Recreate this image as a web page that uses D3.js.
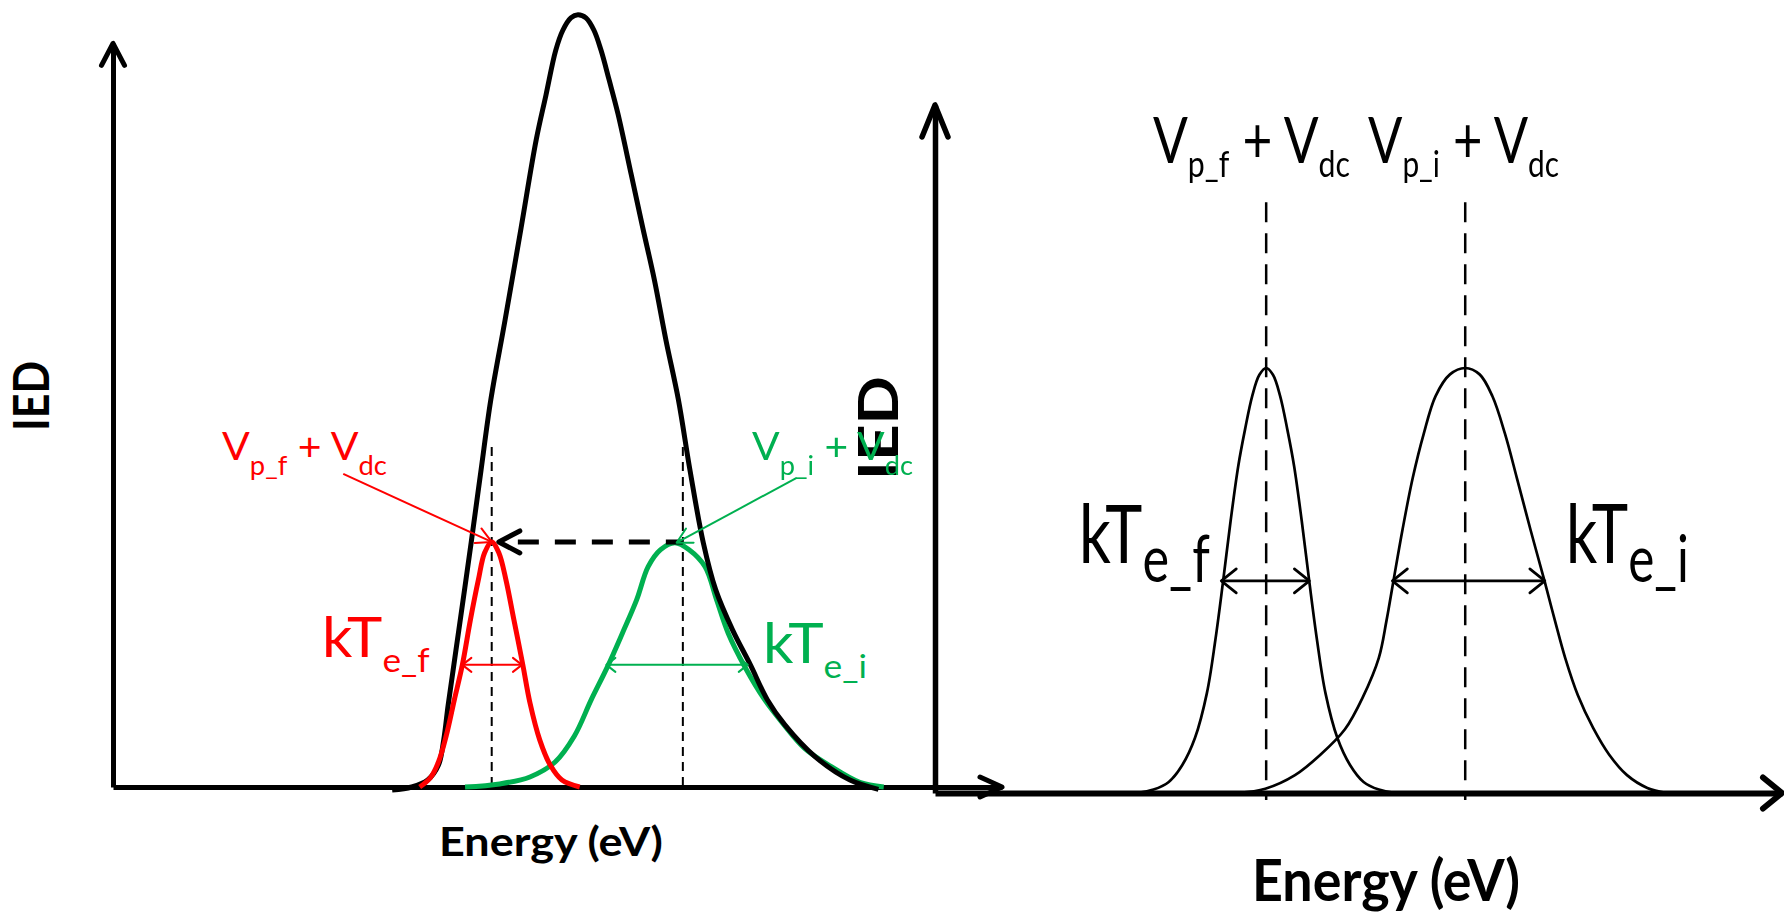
<!DOCTYPE html>
<html>
<head>
<meta charset="utf-8">
<script src="https://cdn.jsdelivr.net/npm/d3@7/dist/d3.min.js"></script>
<style>
  html, body { margin: 0; padding: 0; background: #ffffff; }
  svg { display: block; }
  text { white-space: pre; }
</style>
</head>
<body>
<svg id="chart" width="1784" height="913"></svg>
<script>
// ---------- Left panel: measured IED (envelope) and its two component peaks ----------
const envelopeEnergy = [31.4, 33.6, 35.4, 36.6, 37.2, 37.7, 38.9, 40.3, 41.4, 42.5, 44.1, 45.9, 47.6, 48.7, 49.8, 50.6, 51.5, 52.3, 53.2, 54.1, 54.9, 55.8, 56.8, 58.3, 59.6, 60.9, 62.2, 63.6, 64.9, 66.4, 67.8, 69.7, 71.7, 73.6, 75.6, 79.0, 82.9, 86.1];
const envelopeIED    = [-0.4, 0, 0.9, 2.8, 6.1, 10.6, 20.3, 31.7, 41.0, 50.1, 60.4, 72.3, 83.7, 89.5, 95.3, 97.9, 99.5, 99.9, 99.5, 97.9, 95.3, 91.5, 87.1, 79.2, 72.3, 65.6, 57.8, 50.1, 41.0, 31.6, 25.5, 20.3, 15.8, 11.3, 8.0, 3.9, 0.9, -0.3];

const finalEnergyL = [34.5, 35.7, 36.6, 37.5, 38.4, 39.3, 40.2, 41.1, 41.8, 42.6, 43.4, 44.2, 45.1, 46.1, 46.9, 48.0, 49.2, 50.5, 52.5];
const finalIEDL    = [0, 1.2, 3.2, 6.7, 11.3, 15.8, 21.6, 26.8, 30.3, 31.7, 30.3, 26.8, 21.6, 15.8, 10.9, 6.1, 2.8, 0.9, 0];

const initialEnergyL = [39.6, 43.5, 46.9, 49.7, 51.9, 53.8, 55.6, 57.3, 58.9, 60.2, 61.6, 63.2, 64.8, 66.6, 67.9, 69.2, 71.1, 73.3, 75.3, 77.8, 80.7, 84.0, 86.7];
const initialIEDL    = [0, 0.4, 1.3, 3.2, 6.6, 11.3, 15.5, 19.9, 24.2, 28.5, 30.7, 31.6, 30.7, 28.5, 24.2, 19.9, 15.5, 11.3, 8.3, 5.0, 2.7, 0.6, 0];

const markerEnergyL = [42.6, 64.1];          // V_p_f + V_dc , V_p_i + V_dc
const markerTopL = 44;
const widthBarsL = [[39.3, 46.0], [55.5, 71.4]];   // kT_e_f , kT_e_i
const widthBarLevelL = 15.8;
const shiftArrowL = [64.1, 43.4];            // energy shift from initial to final peak
const shiftLevelL = 31.7;
const pointerTailsL = [[25.9, 40.5], [76.9, 40.0]];
const pointerTipsL = [[42.6, 31.7], [63.4, 31.6]];
const axisTopL = 96.2;

// ---------- Right panel: the two ideal peaks ----------
const finalEnergyR = [23.9, 25.8, 27.6, 29.2, 30.7, 32.1, 33.1, 34.0, 34.9, 35.8, 36.6, 37.45, 38.3, 39.1, 39.9, 40.75, 41.6, 42.4, 43.3, 44.2, 45.1, 46.1, 47.5, 49.0, 50.6, 52.4, 54.3];
const finalIEDR    = [0, 0.8, 2.6, 6.6, 13, 23.5, 36, 49.6, 64, 76.9, 85.5, 93.4, 98.4, 100, 98.4, 93.4, 85.5, 76.9, 64, 49.6, 36, 23.5, 13, 6.6, 2.6, 0.8, 0];

const initialEnergyR = [35.8, 39.0, 42.5, 45.5, 48.4, 50.5, 52.4, 53.3, 54.1, 55.2, 56.4, 57.7, 59.1, 60.8, 62.6, 64.3, 65.8, 67.3, 68.7, 70.3, 72.0, 73.2, 74.4, 75.9, 77.7, 79.6, 81.7, 84.1, 86.4];
const initialIEDR    = [0, 1, 4.2, 9, 15, 22.5, 31.8, 40.5, 49.6, 62, 74.1, 84.5, 93.4, 98.5, 100, 98.5, 93.4, 84.5, 74.1, 62, 49.6, 40.5, 31.8, 23, 15.3, 9, 4.2, 1.2, 0];

const markerEnergyR = [39.1, 62.6];
const markerTopR = 139;
const widthBarsR = [[33.8, 44.2], [54.0, 72.0]];
const widthBarLevelR = 49.9;
const axisTopR = 161.9;

// ---------- Styles ----------
const RED = "#ff0000", GREEN = "#00b050", BLACK = "#000000";
const FONT = "Lato, 'Open Sans', sans-serif";

const svg = d3.select("#chart");
const defs = svg.append("defs");
defs.append("filter").attr("id", "soft")
  .append("feGaussianBlur").attr("stdDeviation", 0.6);

// Scales
const xL = d3.scaleLinear().domain([0, 100]).range([113, 1002]);
const yL = d3.scaleLinear().domain([0, 100]).range([787, 14]);
const xR = d3.scaleLinear().domain([0, 100]).range([935, 1782]);
const yR = d3.scaleLinear().domain([0, 100]).range([793, 368]);

const zip = (a, b) => a.map((v, i) => [v, b[i]]);
const smooth = d3.curveCatmullRom.alpha(0.5);

function chevron(g, tip, dir, len, half, color, width) {
  const [tx, ty] = tip;
  const n = Math.hypot(dir[0], dir[1]);
  const dx = dir[0] / n, dy = dir[1] / n;
  const bx = tx - dx * len, by = ty - dy * len;
  const px = -dy, py = dx;
  g.append("path")
    .attr("d", `M${bx + px * half},${by + py * half}L${tx},${ty}L${bx - px * half},${by - py * half}`)
    .attr("fill", "none").attr("stroke", color).attr("stroke-width", width)
    .attr("stroke-linecap", "round").attr("stroke-linejoin", "round");
}

function doubleArrow(g, x0, x1, y, len, half, color, width) {
  g.append("line").attr("x1", x0).attr("x2", x1).attr("y1", y).attr("y2", y)
    .attr("stroke", color).attr("stroke-width", width);
  chevron(g, [x0, y], [-1, 0], len, half, color, width);
  chevron(g, [x1, y], [1, 0], len, half, color, width);
}

// Text with subscripts, fitted to a horizontal extent
function richLabel(g, parts, o) {
  const t = g.append("text").attr("fill", o.color).attr("font-family", FONT)
    .attr("font-weight", o.weight || 400).attr("x", 0).attr("y", 0);
  let cur = 0;
  parts.forEach(([s, sub]) => {
    const target = sub ? o.subShift : 0;
    t.append("tspan").attr("font-size", sub ? o.subSize : o.size)
      .attr("dy", target - cur).text(s);
    cur = target;
  });
  const bb = t.node().getBBox();
  const sx = (o.x1 - o.x0) / bb.width;
  t.attr("transform", `translate(${o.x0 - bb.x * sx},${o.y}) scale(${sx},1)`);
  return t;
}

function verticalLabel(g, s, o) {
  const t = g.append("text").attr("font-family", FONT).attr("font-weight", 700)
    .attr("font-size", o.size).attr("fill", BLACK).attr("text-anchor", "middle")
    .attr("x", 0).attr("y", 0).text(s);
  const bb = t.node().getBBox();
  const sx = o.len / bb.width;
  t.attr("transform", `translate(${o.bx},${o.cy}) rotate(-90) scale(${sx},1)`);
}

// ================= LEFT PANEL =================
const left = svg.append("g");

// axes (no ticks)
const axisL_x = d3.axisBottom(xL).ticks(0).tickSizeOuter(0);
const axisL_y = d3.axisLeft(yL.copy().domain([0, axisTopL]).range([yL(0), yL(axisTopL)])).ticks(0).tickSizeOuter(0);
left.append("g").attr("transform", `translate(0,${yL(0)})`).call(axisL_x)
  .select(".domain").attr("stroke", BLACK).attr("stroke-width", 5);
left.append("g").attr("transform", `translate(${xL(0)},0)`).call(axisL_y)
  .select(".domain").attr("stroke", BLACK).attr("stroke-width", 5);
chevron(left, [xL(0), yL(axisTopL)], [0, -1], 22, 11.5, BLACK, 5);
chevron(left, [xL(100), yL(0)], [1, 0], 22, 10, BLACK, 5);

// dashed peak markers
markerEnergyL.forEach(e => {
  left.append("line").attr("x1", xL(e)).attr("x2", xL(e))
    .attr("y1", yL(markerTopL)).attr("y2", yL(0))
    .attr("stroke", BLACK).attr("stroke-width", 2).attr("stroke-dasharray", "9,6");
});

const lineL = d3.line().x(d => xL(d[0])).y(d => yL(d[1])).curve(smooth);

left.append("path").datum(zip(initialEnergyL, initialIEDL)).attr("d", lineL)
  .attr("fill", "none").attr("stroke", GREEN).attr("stroke-width", 5);
left.append("path").datum(zip(envelopeEnergy, envelopeIED)).attr("d", lineL)
  .attr("fill", "none").attr("stroke", BLACK).attr("stroke-width", 5).attr("stroke-linejoin", "round");
left.append("path").datum(zip(finalEnergyL, finalIEDL)).attr("d", lineL)
  .attr("fill", "none").attr("stroke", RED).attr("stroke-width", 5);

// energy shift arrow (initial -> final)
left.append("line").attr("x1", xL(shiftArrowL[0])).attr("x2", xL(shiftArrowL[1]) + 12)
  .attr("y1", yL(shiftLevelL)).attr("y2", yL(shiftLevelL))
  .attr("stroke", BLACK).attr("stroke-width", 5).attr("stroke-dasharray", "21,16")
  .attr("stroke-dashoffset", 4);
chevron(left, [xL(shiftArrowL[1]), yL(shiftLevelL)], [-1, 0], 21, 11, BLACK, 5);

// kT width bars
doubleArrow(left, xL(widthBarsL[0][0]), xL(widthBarsL[0][1]), yL(widthBarLevelL), 9, 7, RED, 2);
doubleArrow(left, xL(widthBarsL[1][0]), xL(widthBarsL[1][1]), yL(widthBarLevelL), 9, 7, GREEN, 2);

// pointers from labels to peaks
[[pointerTailsL[0], pointerTipsL[0], RED], [pointerTailsL[1], pointerTipsL[1], GREEN]].forEach(([a, b, c]) => {
  const x0 = xL(a[0]), y0 = yL(a[1]), x1 = xL(b[0]), y1 = yL(b[1]);
  left.append("line").attr("x1", x0).attr("y1", y0).attr("x2", x1).attr("y2", y1)
    .attr("stroke", c).attr("stroke-width", 2);
  chevron(left, [x1, y1], [x1 - x0, y1 - y0], 15, 8, c, 2);
});

// labels
verticalLabel(left, "IED", { size: 49, bx: 49, cy: 396, len: 70 });
richLabel(left, [["Energy (eV)", false]], { color: BLACK, weight: 700, size: 40, x0: 439, x1: 663, y: 856 });
richLabel(left, [["kT", false], ["e_f", true]], { color: RED, size: 56, subSize: 33, subShift: 15, x0: 322, x1: 430, y: 657 });
richLabel(left, [["kT", false], ["e_i", true]], { color: GREEN, size: 56, subSize: 33, subShift: 15, x0: 763, x1: 867, y: 663 });
richLabel(left, [["V", false], ["p_f", true], [" + V", false], ["dc", true]], { color: RED, size: 39, subSize: 26, subShift: 15, x0: 222, x1: 387, y: 460 });

// ================= RIGHT PANEL =================
const right = svg.append("g").attr("filter", "url(#soft)");

// bold axis label that sits between the panels
verticalLabel(right, "IED", { size: 55, bx: 898, cy: 428, len: 104 });

const axisR_x = d3.axisBottom(xR).ticks(0).tickSizeOuter(0);
const axisR_y = d3.axisLeft(yR.copy().domain([0, axisTopR]).range([yR(0), yR(axisTopR)])).ticks(0).tickSizeOuter(0);
right.append("g").attr("transform", `translate(0,${yR(0)})`).call(axisR_x)
  .select(".domain").attr("stroke", BLACK).attr("stroke-width", 6);
right.append("g").attr("transform", `translate(${xR(0)},0)`).call(axisR_y)
  .select(".domain").attr("stroke", BLACK).attr("stroke-width", 5.5);
chevron(right, [xR(0), yR(axisTopR)], [0, -1], 32, 13, BLACK, 5.5);
chevron(right, [xR(100), yR(0)], [1, 0], 19, 15.5, BLACK, 6);

markerEnergyR.forEach(e => {
  right.append("line").attr("x1", xR(e)).attr("x2", xR(e))
    .attr("y1", yR(markerTopR)).attr("y2", yR(0) + 7)
    .attr("stroke", BLACK).attr("stroke-width", 2.5).attr("stroke-dasharray", "20,11");
});

const lineR = d3.line().x(d => xR(d[0])).y(d => yR(d[1])).curve(smooth);
right.append("path").datum(zip(finalEnergyR, finalIEDR)).attr("d", lineR)
  .attr("fill", "none").attr("stroke", BLACK).attr("stroke-width", 2.7);
right.append("path").datum(zip(initialEnergyR, initialIEDR)).attr("d", lineR)
  .attr("fill", "none").attr("stroke", BLACK).attr("stroke-width", 2.7);

doubleArrow(right, xR(widthBarsR[0][0]), xR(widthBarsR[0][1]), yR(widthBarLevelR), 15, 12, BLACK, 2.7);
doubleArrow(right, xR(widthBarsR[1][0]), xR(widthBarsR[1][1]), yR(widthBarLevelR), 15, 12, BLACK, 2.7);

richLabel(right, [["V", false], ["p_f", true], [" + V", false], ["dc", true]], { color: BLACK, size: 63, subSize: 37, subShift: 14, x0: 1153, x1: 1350, y: 163 });
richLabel(right, [["V", false], ["p_i", true], [" + V", false], ["dc", true]], { color: BLACK, size: 63, subSize: 37, subShift: 14, x0: 1368, x1: 1559, y: 163 });
richLabel(right, [["kT", false], ["e_f", true]], { color: BLACK, size: 81, subSize: 65, subShift: 19, x0: 1079, x1: 1210, y: 563 });
richLabel(right, [["kT", false], ["e_i", true]], { color: BLACK, size: 81, subSize: 65, subShift: 19, x0: 1566, x1: 1689, y: 563 });
richLabel(right, [["Energy (eV)", false]], { color: BLACK, weight: 700, size: 57, x0: 1252, x1: 1520, y: 901 });

// green peak label is drawn last so it sits over the bold axis label
richLabel(svg, [["V", false], ["p_i", true], [" + V", false], ["dc", true]], { color: GREEN, size: 39, subSize: 26, subShift: 15, x0: 752, x1: 913, y: 460 });
</script>
</body>
</html>
